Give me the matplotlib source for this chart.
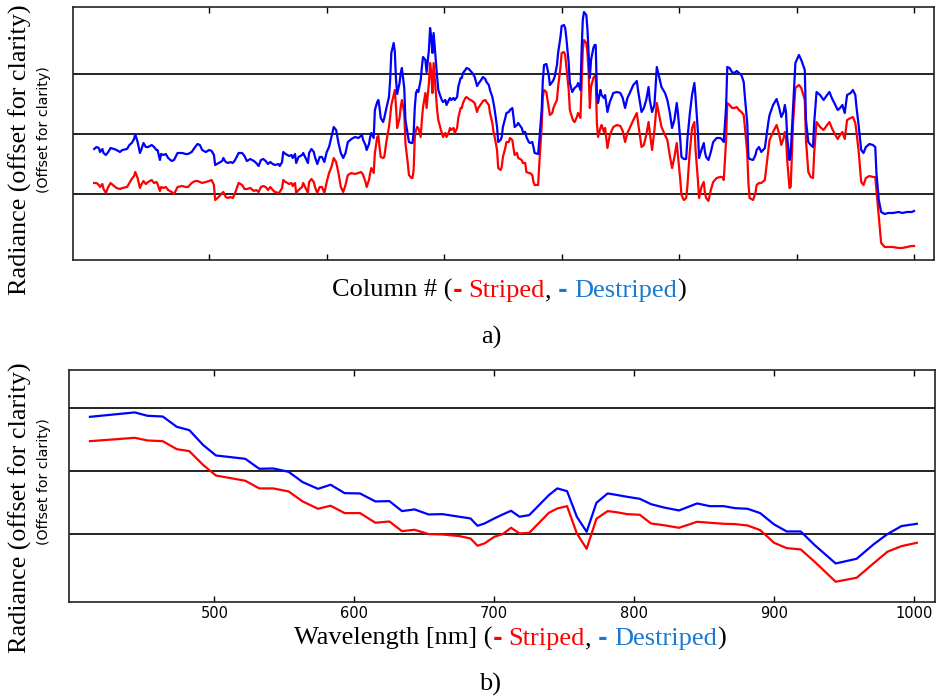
import numpy as np
import matplotlib
matplotlib.use('Agg')
import matplotlib.pyplot as plt

# ---- data: a) profile across columns (radiance, arbitrary offset units) ----
col = [2, 4, 6, 7, 9, 10, 12, 14, 16, 19, 21, 24, 26, 30, 32, 34, 36, 37, 39, 41,
       42, 44, 46, 48, 51, 53, 55, 56, 58, 59, 61, 63, 65, 68, 70, 73, 77, 80, 82, 85,
       88, 90, 92, 94, 97, 100, 102, 104, 105, 108, 111, 112, 114, 116, 118, 120, 122, 125, 128, 130,
       132, 135, 138, 140, 142, 144, 146,
       148, 150, 152, 154, 156, 159, 160, 162, 163, 165, 168, 170, 171, 173, 174, 176, 179, 180, 182, 184,
       185, 187, 189, 190, 192, 194, 196, 198, 200, 202, 204, 206, 208, 210, 212, 214, 216, 218, 221, 224,
       227, 229, 230, 231, 233, 234, 236, 237, 238, 240, 241, 243, 244, 245, 246, 248, 249, 251, 253, 254,
       255, 257, 258, 259, 260, 262, 263, 264, 266, 267, 269, 270, 272, 273, 274, 275, 276, 277, 278, 280,
       281, 282, 284, 285, 287, 288, 289, 290, 291,
       294, 295, 297, 298, 299, 301, 302, 304, 305, 306, 308, 309, 311, 312, 314, 315, 316, 318, 319, 321,
       324, 325, 326, 328, 329, 332, 333, 335, 336, 338, 339, 341, 342, 343, 345, 346, 348, 349, 350, 352,
       353, 355, 356, 358, 359, 360, 362, 363, 366, 367, 369, 370, 372, 373, 375, 376, 377, 380, 381, 383,
       384, 385, 387, 389, 390, 392, 393, 394, 396, 397, 399, 400, 402, 403, 404, 406, 407, 409, 410, 411,
       413, 414, 416, 417, 418, 419, 421, 422, 423, 424, 425, 427, 428,
       429, 430, 431, 433, 434, 436, 437, 439, 441, 444, 447, 450, 452, 454, 456, 458, 461, 464, 465, 468,
       470, 472, 474, 475, 477, 479, 481, 483, 485, 488, 490, 492, 494, 496, 498, 499, 501, 502, 504, 506,
       507, 509, 511, 513, 514, 516, 517, 519, 521, 522, 523, 525, 527, 529, 532, 535, 537, 538, 540, 541,
       543, 545, 547, 549, 551, 553, 555, 556, 558, 559, 560, 563, 565, 566, 568, 570, 573, 576, 577, 580,
       583, 585, 587, 589, 590, 591, 592, 594, 595, 597, 599, 602, 604, 607, 608, 610, 612, 614, 615, 617,
       620, 623, 626, 628, 630, 633, 635, 637, 639, 641, 643, 646, 648, 650, 651, 653, 655, 657, 659, 662,
       665, 667, 668, 670, 672, 675, 678, 682, 687, 690, 694, 698, 700]

destriped_a = [105, 107, 106, 102, 105, 101, 99, 102, 106, 105, 104, 102, 104, 105, 109, 111, 115, 120, 112, 101,
               104, 111, 107, 107, 109, 107, 104, 104, 94, 100, 99, 100, 96, 93, 94, 101, 101, 100, 100, 102,
               107, 110, 109, 104, 102, 104, 103, 99, 89, 91, 93, 96, 92, 91, 92, 91, 94, 101, 101, 98,
               93, 95, 93, 91, 88, 94, 95,
               93, 90, 92, 90, 89, 90, 88, 92, 102, 100, 98, 99, 96, 100, 91, 97, 99, 101, 96, 91,
               101, 105, 102, 97, 90, 97, 97, 92, 102, 107, 117, 127, 124, 111, 101, 96, 101, 112, 115, 117,
               116, 118, 119, 114, 109, 104, 110, 117, 121, 116, 144, 152, 154, 146, 136, 132, 136, 147, 157, 174,
               201, 211, 202, 174, 160, 171, 181, 186, 166, 134, 119, 112, 111, 111, 121, 147, 161, 164, 162, 174,
               187, 197, 194, 182, 204, 226, 217, 201, 221,
               177, 164, 157, 154, 152, 154, 149, 154, 156, 154, 156, 154, 157, 167, 176, 176, 181, 184, 186, 185,
               181, 179, 177, 168, 170, 175, 177, 175, 172, 169, 164, 157, 151, 144, 127, 112, 114, 117, 127, 136,
               141, 142, 144, 146, 137, 127, 129, 131, 126, 122, 122, 117, 112, 111, 112, 107, 101, 100, 114, 144,
               174, 189, 190, 179, 169, 172, 174, 177, 189, 201, 217, 228, 229, 226, 216, 191, 171, 162, 164, 166,
               168, 171, 164, 204, 234, 242, 239, 224, 201, 176, 194, 206, 209,
               209, 161, 151, 164, 159, 156, 159, 142, 152, 161, 162, 161, 156, 146, 156, 161, 169, 173, 164, 142,
               146, 154, 167, 154, 142, 149, 187, 177, 167, 161, 154, 142, 126, 134, 151, 141, 114, 97, 95, 95,
               114, 139, 159, 171, 157, 122, 96, 104, 111, 102, 97, 94, 102, 112, 116, 116, 114, 112, 147, 187,
               186, 182, 181, 183, 181, 179, 172, 157, 131, 97, 95, 94, 99, 104, 107, 102, 106, 132, 139, 149,
               155, 147, 137, 142, 149, 142, 117, 94, 101, 147, 191, 199, 194, 184, 134, 112, 109, 107, 131, 162,
               159, 154, 159, 162, 156, 149, 144, 146, 149, 141, 159, 161, 164, 159, 147, 127, 104, 101, 107, 110,
               109, 107, 81, 54, 42, 40, 41, 41, 42, 41, 42, 42, 43]

striped_a = [71, 71, 69, 67, 70, 65, 61, 67, 71, 68, 66, 65, 66, 67, 71, 75, 78, 82, 76, 66,
             69, 73, 70, 72, 74, 71, 72, 70, 63, 67, 66, 67, 64, 62, 60, 67, 68, 67, 67, 71,
             73, 73, 72, 71, 72, 73, 74, 69, 54, 57, 61, 62, 57, 56, 57, 56, 61, 71, 69, 65,
             65, 66, 63, 64, 62, 67, 68,
             67, 64, 67, 64, 62, 61, 62, 66, 74, 72, 70, 71, 68, 71, 61, 64, 67, 71, 66, 61,
             72, 75, 72, 67, 61, 67, 67, 61, 72, 81, 87, 96, 92, 81, 67, 62, 69, 79, 81, 80,
             81, 82, 81, 79, 72, 67, 74, 81, 86, 81, 101, 117, 118, 106, 97, 96, 97, 114, 127, 137,
             149, 159, 164, 147, 126, 136, 147, 154, 141, 111, 91, 79, 76, 76, 84, 117, 124, 127, 126, 117,
             134, 147, 161, 146, 171, 191, 181, 161, 191,
             144, 134, 125, 121, 117, 121, 117, 122, 126, 124, 126, 121, 126, 136, 146, 146, 151, 156, 157, 155,
             153, 152, 151, 142, 146, 151, 153, 154, 152, 149, 141, 131, 122, 117, 104, 86, 84, 87, 97, 106,
             112, 112, 116, 114, 106, 99, 101, 96, 94, 91, 91, 82, 81, 81, 79, 72, 69, 69, 91, 127,
             157, 164, 162, 146, 139, 141, 146, 149, 154, 167, 187, 201, 202, 199, 187, 164, 144, 136, 133, 132,
             137, 141, 136, 171, 204, 214, 211, 201, 181, 146, 167, 176, 178,
             177, 131, 117, 126, 129, 122, 126, 106, 119, 127, 129, 128, 123, 112, 121, 126, 134, 141, 132, 107,
             109, 119, 132, 122, 104, 124, 151, 139, 127, 119, 114, 99, 86, 97, 111, 99, 74, 59, 54, 56,
             67, 101, 126, 132, 104, 74, 56, 67, 72, 61, 56, 53, 64, 72, 76, 77, 77, 74, 114, 151,
             149, 146, 146, 147, 144, 142, 139, 127, 101, 71, 56, 54, 61, 69, 71, 71, 74, 104, 114, 122,
             129, 121, 109, 116, 122, 117, 94, 66, 67, 131, 166, 169, 166, 154, 114, 82, 77, 76, 101, 132,
             127, 124, 129, 132, 126, 119, 115, 119, 122, 115, 134, 136, 137, 131, 122, 101, 72, 69, 76, 78,
             77, 77, 64, 37, 11, 7, 7, 7, 6, 6, 7, 8, 8]

# ---- data: b) spectrum ----
wavelength = [411, 443, 452, 463, 473, 482, 492, 501, 522, 532, 542, 553, 563, 574, 583, 593, 604, 615, 625, 634,
              643, 653, 663, 675, 683, 688, 693, 700, 706, 712, 718, 725, 739, 745, 752, 759, 766, 773, 781, 787,
              795, 804, 812, 821, 832, 845, 854, 864, 872, 881, 890, 900, 909, 919, 929, 944, 959, 971, 981, 991,
              1002]
destriped_b = [171.4, 175.6, 172.4, 171.7, 161.9, 158.7, 144.4, 134.6, 131.4, 121.9, 122.2, 119.0, 109.2, 102.8,
               106.7, 98.7, 98.4, 90.8, 91.1, 81.6, 83.2, 78.4, 78.7, 76.2, 74.6, 67.6, 69.8, 74.6, 78.4, 81.9,
               76.2, 77.8, 96.8, 103.2, 100.6, 76.2, 61.9, 89.5, 98.4, 97.1, 95.2, 93.3, 88.2, 85.1, 82.2, 88.9,
               86.3, 86.3, 84.4, 83.8, 79.7, 68.9, 62.2, 62.2, 49.2, 31.7, 36.2, 49.8, 59.7, 67.3, 69.5]
striped_b = [148.2, 151.4, 148.9, 148.2, 140.6, 138.7, 125.4, 115.5, 110.5, 103.2, 103.2, 100.3, 90.8, 83.8,
             86.7, 79.7, 79.7, 70.5, 71.7, 62.5, 63.8, 59.7, 59.3, 57.8, 55.5, 48.6, 50.8, 57.1, 59.7, 65.7,
             60.3, 60.9, 80.0, 84.1, 86.3, 60.3, 45.7, 74.3, 81.6, 80.6, 78.7, 78.1, 69.8, 68.2, 65.7, 71.4,
             70.5, 69.5, 69.2, 67.9, 63.5, 51.4, 46.3, 45.1, 33.3, 14.3, 18.1, 31.7, 42.9, 48.2, 51.4]

offset_lines = [60, 120, 180]
wl_ticks = [500, 600, 700, 800, 900, 1000]
col_ticks = [100, 200, 300, 400, 500, 600, 700]

RED = '#ff0000'
BLUE = '#0000ff'
TXT_BLUE = '#1a7ad0'
SERIF = 'Liberation Serif'
W, H = 936, 697

fig = plt.figure(figsize=(W / 100, H / 100), dpi=100)
ax1 = fig.add_axes([73 / W, 1 - 260 / H, (934 - 73) / W, (260 - 7) / H])
ax2 = fig.add_axes([69 / W, 1 - 602 / H, (935 - 69) / W, (602 - 370) / H])

for ax in (ax1, ax2):
    for g in offset_lines:
        ax.axhline(g, color='#222222', lw=1.4, zorder=1)
    ax.set_yticks([])
    for s in ax.spines.values():
        s.set_linewidth(1.2)
        s.set_color('#222222')
    ax.tick_params(axis='x', direction='in', top=True, length=4, width=1, pad=3)

ax1.plot(col, striped_a, color=RED, lw=1.6, zorder=2)
ax1.plot(col, destriped_a, color=BLUE, lw=1.6, zorder=3)
ax1.set_xlim(-16, 717)
ax1.set_ylim(-6, 247)
ax1.set_xticks(col_ticks)
ax1.tick_params(axis='x', labelbottom=False)

ax2.plot(wavelength, striped_b, color=RED, lw=1.6, zorder=2)
ax2.plot(wavelength, destriped_b, color=BLUE, lw=1.6, zorder=3)
ax2.set_xlim(396, 1015)
ax2.set_ylim(-5, 216)
ax2.set_xticks(wl_ticks)
ax2.tick_params(axis='x', labelsize=10.5, pad=3)


def px(x, y):
    return x / W, 1 - y / H


# y labels (big serif one plus the small original one)
for yc_big, yc_small in ((150, 130), (508, 482)):
    fig.text(*px(20, yc_big), 'Radiance (offset for clarity)', rotation=90, ha='center', va='center',
             family=SERIF, fontsize=18.8)
    fig.text(*px(44, yc_small), '(Offset for clarity)', rotation=90, ha='center', va='center',
             family='DejaVu Sans', fontsize=10.2)

renderer = fig.canvas.get_renderer()


def width_of(s, **kw):
    t = fig.text(0, 0, s, **kw)
    w = t.get_window_extent(renderer).width
    t.remove()
    return w


def colored_label(xc, y_base, first, size):
    kw = dict(family=SERIF, fontsize=size)
    dash = dict(family='DejaVu Sans', fontsize=size * 0.9, fontweight='bold')
    sp = width_of('a b', **kw) - width_of('ab', **kw)
    parts = [(first + ' (', 'k', kw, 0), ('-', RED, dash, 0), ('Striped', RED, kw, sp),
             (',', 'k', kw, 0), ('-', TXT_BLUE, dash, sp), ('Destriped', TXT_BLUE, kw, sp),
             (')', 'k', kw, 0)]
    widths = [width_of(s, **k) for s, c, k, g in parts]
    total = sum(widths) + sum(p[3] for p in parts)
    x = xc - total / 2
    for (s, c, k, g), w in zip(parts, widths):
        x += g
        fig.text(*px(x, y_base), s, color=c, ha='left', va='baseline', **k)
        x += w


colored_label(509, 297, 'Column #', 19)
colored_label(510, 645, 'Wavelength [nm]', 19)
fig.text(*px(491, 344), 'a)', ha='center', va='baseline', family=SERIF, fontsize=19)
fig.text(*px(490, 691), 'b)', ha='center', va='baseline', family=SERIF, fontsize=19)

fig.savefig('out.png', dpi=100)
